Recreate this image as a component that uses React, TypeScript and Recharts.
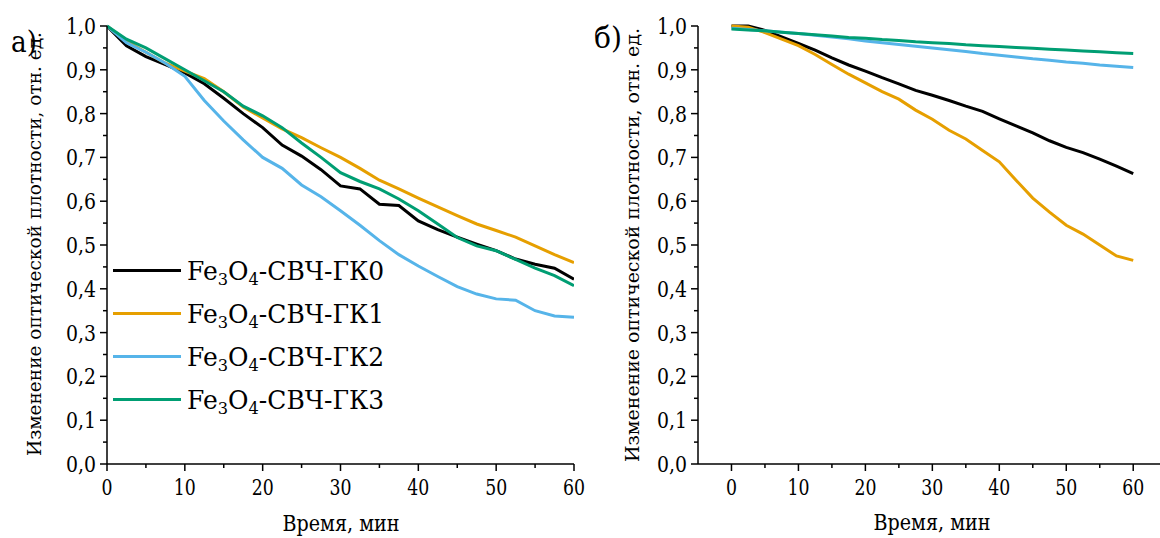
import { LineChart, Line, XAxis, YAxis, Legend } from 'recharts';

const FONT = "'DejaVu Serif', serif";

// time, min
const time = [0, 2.5, 5, 7.5, 10, 12.5, 15, 17.5, 20, 22.5, 25, 27.5, 30, 32.5, 35, 37.5, 40, 42.5, 45, 47.5, 50, 52.5, 55, 57.5, 60];

// panel а)
const leftGK0 = [1.0, 0.955, 0.93, 0.912, 0.893, 0.868, 0.835, 0.8, 0.768, 0.728, 0.703, 0.672, 0.635, 0.628, 0.593, 0.59, 0.555, 0.535, 0.518, 0.502, 0.487, 0.468, 0.456, 0.447, 0.422];
const leftGK1 = [1.0, 0.965, 0.94, 0.915, 0.897, 0.88, 0.85, 0.815, 0.79, 0.765, 0.745, 0.722, 0.7, 0.675, 0.648, 0.628, 0.607, 0.587, 0.567, 0.548, 0.533, 0.518, 0.498, 0.478, 0.46];
const leftGK2 = [1.0, 0.962, 0.94, 0.915, 0.885, 0.83, 0.783, 0.74, 0.7, 0.675, 0.637, 0.61, 0.578, 0.545, 0.51, 0.478, 0.452, 0.428, 0.405, 0.388, 0.377, 0.374, 0.35, 0.338, 0.335];
const leftGK3 = [1.0, 0.97, 0.95, 0.925, 0.9, 0.875, 0.85, 0.817, 0.795, 0.768, 0.733, 0.7, 0.665, 0.645, 0.628, 0.605, 0.578, 0.548, 0.517, 0.498, 0.487, 0.467, 0.447, 0.43, 0.407];

// panel б)
const rightGK0 = [1.0, 1.0, 0.99, 0.975, 0.96, 0.945, 0.927, 0.911, 0.897, 0.882, 0.868, 0.853, 0.842, 0.83, 0.817, 0.805, 0.788, 0.772, 0.756, 0.738, 0.723, 0.711, 0.696, 0.68, 0.663];
const rightGK1 = [1.0, 0.997, 0.985, 0.97, 0.955, 0.935, 0.912, 0.89, 0.87, 0.85, 0.833, 0.808, 0.787, 0.762, 0.742, 0.716, 0.69, 0.648, 0.607, 0.575, 0.545, 0.525, 0.5, 0.475, 0.465];
const rightGK2 = [0.995, 0.992, 0.989, 0.986, 0.983, 0.979, 0.975, 0.971, 0.966, 0.962, 0.958, 0.954, 0.95, 0.946, 0.942, 0.937, 0.933, 0.929, 0.925, 0.922, 0.918, 0.915, 0.911, 0.908, 0.905];
const rightGK3 = [0.993, 0.991, 0.989, 0.986, 0.983, 0.98, 0.977, 0.974, 0.972, 0.969, 0.967, 0.964, 0.962, 0.96, 0.957, 0.955, 0.953, 0.951, 0.949, 0.947, 0.945, 0.943, 0.941, 0.939, 0.937];

const xTicks = [0, 5, 10, 15, 20, 25, 30, 35, 40, 45, 50, 55, 60];
const yTicks = [0, 0.05, 0.1, 0.15, 0.2, 0.25, 0.3, 0.35, 0.4, 0.45, 0.5, 0.55, 0.6, 0.65, 0.7, 0.75, 0.8, 0.85, 0.9, 0.95, 1.0];

const seriesKeys = ['gk0', 'gk1', 'gk2', 'gk3'];
const seriesSuffix = ['ГК0', 'ГК1', 'ГК2', 'ГК3'];
const colors = ['#000000', '#E69F00', '#56B4E9', '#009E73'];

const yTitle = 'Изменение оптической плотности, отн. ед.';
const xTitle = 'Время, мин';

const buildRows = (a: number[], b: number[], c: number[], d: number[]) =>
  time.map((t, i) => ({ t, gk0: a[i], gk1: b[i], gk2: c[i], gk3: d[i] }));

const leftData = buildRows(leftGK0, leftGK1, leftGK2, leftGK3);
const rightData = buildRows(rightGK0, rightGK1, rightGK2, rightGK3);

// DejaVu Serif is wider than Times, so labels get squeezed to the reference widths
function XTick({ x, y, payload }: any) {
  const major = Math.round(payload.value) % 10 === 0;
  const label = String(payload.value);
  return (
    <g>
      <line x1={x} y1={y} x2={x} y2={y + (major ? 7 : 4)} stroke="#000" strokeWidth={1.5} />
      {major && (
        <text
          x={x} y={y + 31} textAnchor="middle" fill="#000"
          style={{ fontFamily: FONT, fontSize: 22 }}
          textLength={11 * label.length} lengthAdjust="spacingAndGlyphs"
        >
          {label}
        </text>
      )}
    </g>
  );
}

function YTick({ x, y, payload }: any) {
  const major = Math.round(payload.value * 100) % 10 === 0;
  return (
    <g>
      <line x1={x - (major ? 7 : 4)} y1={y} x2={x} y2={y} stroke="#000" strokeWidth={1.5} />
      {major && (
        <text
          x={x - 11} y={y + 8} textAnchor="end" fill="#000"
          style={{ fontFamily: FONT, fontSize: 22 }}
          textLength={30} lengthAdjust="spacingAndGlyphs"
        >
          {payload.value.toFixed(1).replace('.', ',')}
        </text>
      )}
    </g>
  );
}

function SeriesLegend() {
  return (
    <div style={{ fontFamily: FONT, fontSize: 26, color: '#000' }}>
      {seriesSuffix.map((s, i) => (
        <div key={s} style={{ display: 'flex', alignItems: 'center', height: 43, lineHeight: 1 }}>
          <div style={{ width: 68, height: 3, background: colors[i], marginRight: 6 }} />
          <span style={{ whiteSpace: 'nowrap', display: 'inline-block', transform: 'scaleX(0.96)', transformOrigin: 'left center' }}>
            Fe<span style={{ fontSize: '0.65em', position: 'relative', top: '0.35em' }}>3</span>
            O<span style={{ fontSize: '0.65em', position: 'relative', top: '0.35em' }}>4</span>
            -СВЧ-{s}
          </span>
        </div>
      ))}
    </div>
  );
}

function Panel({ data, width, axisWidth, domain, withLegend }: any) {
  return (
    <LineChart width={width} height={538} data={data} margin={{ top: 26, right: withLegend ? 26 : 0, left: 0, bottom: 0 }}>
      <XAxis
        dataKey="t"
        type="number"
        domain={domain}
        ticks={xTicks}
        interval={0}
        allowDataOverflow
        height={74}
        tickSize={0}
        tickMargin={0}
        tick={<XTick />}
        axisLine={{ stroke: '#000', strokeWidth: 1.5 }}
      />
      <YAxis
        type="number"
        domain={[0, 1]}
        ticks={yTicks}
        interval={0}
        width={axisWidth}
        tickSize={0}
        tickMargin={0}
        tick={<YTick />}
        axisLine={{ stroke: '#000', strokeWidth: 1.5 }}
      />
      {withLegend && (
        <Legend
          layout="vertical"
          align="center"
          verticalAlign="middle"
          wrapperStyle={{ left: 113, top: 249, width: 300 }}
          content={() => <SeriesLegend />}
        />
      )}
      {seriesKeys.map((k, i) => (
        <Line
          key={k}
          type="linear"
          dataKey={k}
          stroke={colors[i]}
          strokeWidth={3}
          dot={false}
          isAnimationActive={false}
        />
      ))}
    </LineChart>
  );
}

export default function App() {
  return (
    <div style={{ position: 'absolute', left: 0, top: 0, width: 1160, height: 538, background: '#fff', fontFamily: FONT }}>
      <div style={{ position: 'absolute', left: 0, top: 0 }}>
        <Panel data={leftData} width={600} axisWidth={107} domain={[0, 60]} withLegend />
      </div>
      <div style={{ position: 'absolute', left: 600, top: 0 }}>
        <Panel data={rightData} width={560} axisWidth={98} domain={[-5, 64]} withLegend={false} />
      </div>
      {/* axis titles and panel letters */}
      <svg width={1160} height={538} style={{ position: 'absolute', left: 0, top: 0, pointerEvents: 'none', fontFamily: FONT }}>
        <g fill="#000">
          <text x={34} y={244} transform="rotate(-90 34 244)" textAnchor="middle" dominantBaseline="central" fontSize={19} textLength={424} lengthAdjust="spacingAndGlyphs">{yTitle}</text>
          <text x={632} y={245} transform="rotate(-90 632 245)" textAnchor="middle" dominantBaseline="central" fontSize={19} textLength={434} lengthAdjust="spacingAndGlyphs">{yTitle}</text>
          <text x={341} y={531} textAnchor="middle" fontSize={22} textLength={117} lengthAdjust="spacingAndGlyphs">{xTitle}</text>
          <text x={932} y={530} textAnchor="middle" fontSize={22} textLength={117} lengthAdjust="spacingAndGlyphs">{xTitle}</text>
          <text x={11} y={52} fontSize={29} textLength={26} lengthAdjust="spacingAndGlyphs">а)</text>
          <text x={594} y={48} fontSize={29} textLength={28} lengthAdjust="spacingAndGlyphs">б)</text>
        </g>
      </svg>
    </div>
  );
}
